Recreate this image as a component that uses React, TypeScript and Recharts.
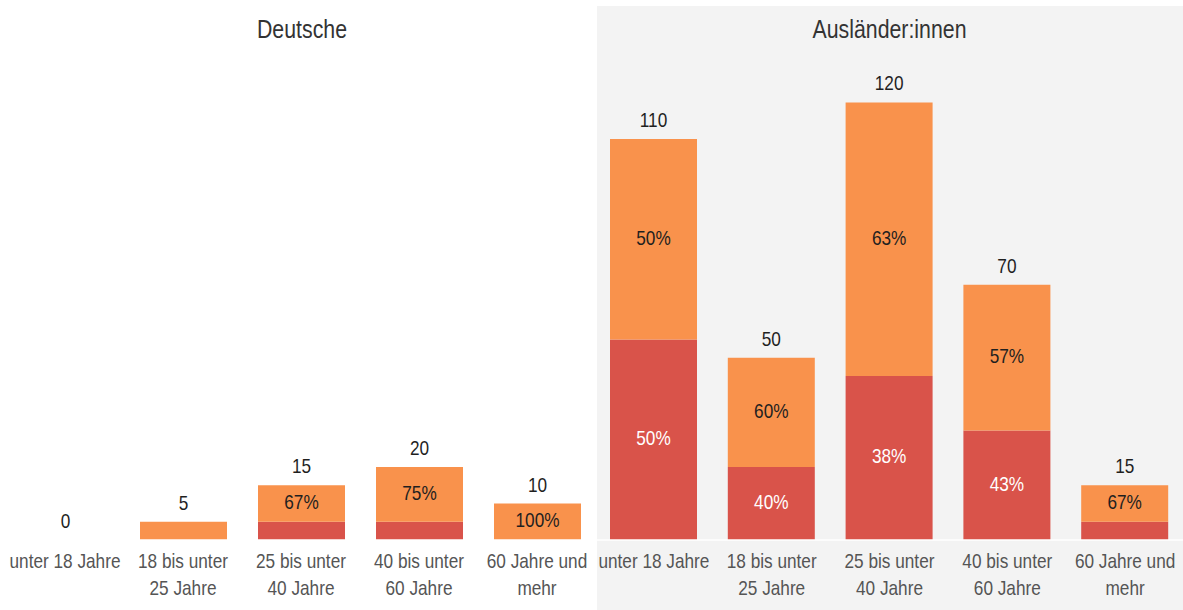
import React from "react";
import { BarChart, Bar, XAxis, YAxis, LabelList } from "recharts";

const categories = [
  "unter 18 Jahre",
  "18 bis unter 25 Jahre",
  "25 bis unter 40 Jahre",
  "40 bis unter 60 Jahre",
  "60 Jahre und mehr",
];
const tickLines = [
  ["unter 18 Jahre"],
  ["18 bis unter", "25 Jahre"],
  ["25 bis unter", "40 Jahre"],
  ["40 bis unter", "60 Jahre"],
  ["60 Jahre und", "mehr"],
];
const panelTitles = ["Deutsche", "Ausländer:innen"];

const deutscheRed = [0, 0, 5, 5, 0];
const deutscheOrange = [0, 5, 10, 15, 10];
const auslRed = [55, 20, 45, 30, 5];
const auslOrange = [55, 30, 75, 40, 10];

const RED = "#D9534A";
const ORANGE = "#F9924C";
const SX = 0.82;
const FONT = "'Liberation Sans', Arial, sans-serif";
const MIN_LABEL = 10;

const pct = (v: number, t: number) =>
  t > 0 && v >= MIN_LABEL ? `${Math.round((v / t) * 100)}%` : "";

const buildRows = (red: number[], orange: number[]) =>
  categories.map((c, i) => {
    const total = red[i] + orange[i];
    return {
      cat: c,
      red: red[i],
      orange: orange[i],
      total,
      redPct: pct(red[i], total),
      orangePct: pct(orange[i], total),
    };
  });

const deutscheRows = buildRows(deutscheRed, deutscheOrange);
const auslRows = buildRows(auslRed, auslOrange);

const Tick = (props: any) => {
  const { x, y, payload } = props;
  const lines = tickLines[payload.index] || [String(payload.value)];
  return (
    <g>
      {lines.map((l, i) => (
        <text
          key={i}
          transform={`translate(${Number(x)} ${Number(y) + 28 + i * 27}) scale(${SX} 1)`}
          textAnchor="middle"
          fontSize={21}
          fontFamily={FONT}
          fill="#555555"
        >
          {l}
        </text>
      ))}
    </g>
  );
};

const TotalLabel = (props: any) => {
  const { x, y, width, value } = props;
  if (value === undefined || value === null) return null;
  const cx = Number(x) + Number(width) / 2;
  return (
    <text
      transform={`translate(${cx} ${Number(y) - 12}) scale(${SX} 1)`}
      textAnchor="middle"
      fontSize={21}
      fontFamily={FONT}
      fill="#1f1f1f"
    >
      {value}
    </text>
  );
};

const makePctLabel = (color: string) => (props: any) => {
  const { x, y, width, height, value } = props;
  if (!value) return null;
  const cx = Number(x) + Number(width) / 2;
  const cy = Number(y) + Number(height) / 2;
  return (
    <text
      transform={`translate(${cx} ${cy + 5.5}) scale(${SX} 1)`}
      textAnchor="middle"
      fontSize={21}
      fontFamily={FONT}
      fill={color}
    >
      {value}
    </text>
  );
};

const RedPct = makePctLabel("#ffffff");
const OrangePct = makePctLabel("#1f1f1f");

const Panel = ({ rows, width, height, margin }: any) => (
  <BarChart width={width} height={height} data={rows} margin={margin}>
    <XAxis
      dataKey="cat"
      height={70}
      interval={0}
      tickLine={false}
      tickSize={0}
      tickMargin={0}
      axisLine={{ stroke: "#ffffff", strokeWidth: 1.5 }}
      tick={<Tick />}
    />
    <YAxis hide domain={[0, 130]} />
    <Bar dataKey="red" stackId="a" fill={RED} barSize={87} isAnimationActive={false}>
      <LabelList dataKey="redPct" content={<RedPct />} />
    </Bar>
    <Bar
      dataKey="orange"
      stackId="a"
      fill={ORANGE}
      barSize={87}
      minPointSize={0.01}
      isAnimationActive={false}
    >
      <LabelList dataKey="orangePct" content={<OrangePct />} />
      <LabelList dataKey="total" content={<TotalLabel />} />
    </Bar>
  </BarChart>
);

export default function App() {
  return (
    <div
      style={{
        position: "absolute",
        left: 0,
        top: 0,
        width: 1183,
        height: 610,
        overflow: "hidden",
        background: "#ffffff",
      }}
    >
      <div
        style={{
          position: "absolute",
          left: 597,
          top: 6,
          width: 586,
          height: 604,
          background: "#F3F3F3",
        }}
      />
      <div style={{ position: "absolute", left: 0, top: 0 }}>
        <Panel
          rows={deutscheRows}
          width={597}
          height={610}
          margin={{ top: 66, right: 1, left: 6, bottom: 0 }}
        />
      </div>
      <div style={{ position: "absolute", left: 595, top: 0 }}>
        <Panel
          rows={auslRows}
          width={589}
          height={610}
          margin={{ top: 66, right: 0, left: 0, bottom: 0 }}
        />
      </div>
      <svg
        width={1183}
        height={610}
        style={{ position: "absolute", left: 0, top: 0, pointerEvents: "none" }}
      >
        <text
          transform={`translate(302 38) scale(${SX} 1)`}
          textAnchor="middle"
          fontSize={26}
          fontFamily={FONT}
          fill="#333"
        >
          {panelTitles[0]}
        </text>
        <text
          transform={`translate(889.5 38) scale(${SX} 1)`}
          textAnchor="middle"
          fontSize={26}
          fontFamily={FONT}
          fill="#333"
        >
          {panelTitles[1]}
        </text>
      </svg>
    </div>
  );
}
